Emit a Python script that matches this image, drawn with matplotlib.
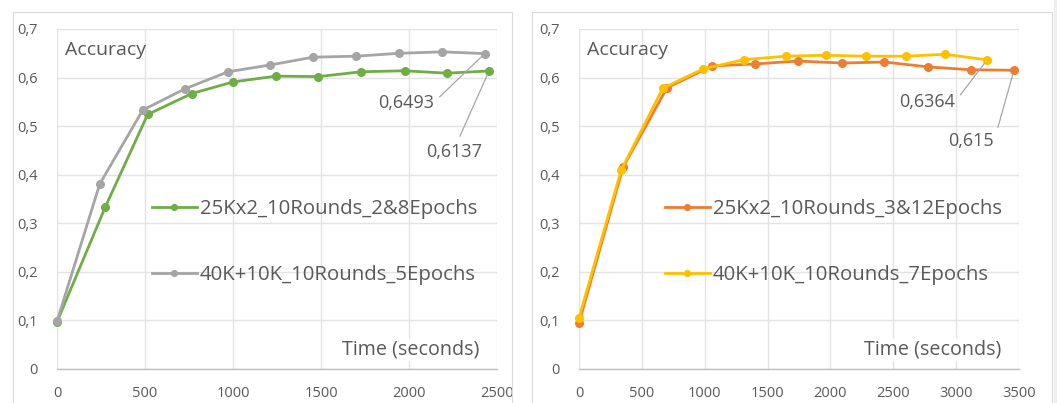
import matplotlib.pyplot as plt
from matplotlib.patches import Rectangle
from matplotlib.ticker import FuncFormatter

plt.rcParams['font.family'] = ['Open Sans', 'DejaVu Sans']

# left chart
green_x = [0, 275, 515, 765, 1000, 1245, 1485, 1730, 1975, 2215, 2455]
green_y = [0.097, 0.334, 0.524, 0.567, 0.591, 0.603, 0.602, 0.612, 0.614, 0.609, 0.6137]
gray_x = [0, 243, 487, 728, 973, 1212, 1456, 1700, 1945, 2190, 2430]
gray_y = [0.098, 0.381, 0.533, 0.577, 0.612, 0.626, 0.642, 0.644, 0.650, 0.653, 0.6493]
left_labels = ["25Kx2_10Rounds_2&8Epochs", "40K+10K_10Rounds_5Epochs"]

# right chart
orange_x = [0, 350, 700, 1060, 1400, 1740, 2092, 2430, 2775, 3118, 3460]
orange_y = [0.095, 0.415, 0.579, 0.624, 0.628, 0.634, 0.630, 0.632, 0.622, 0.616, 0.615]
yellow_x = [0, 335, 666, 990, 1313, 1644, 1965, 2283, 2601, 2912, 3246]
yellow_y = [0.105, 0.409, 0.578, 0.618, 0.637, 0.644, 0.646, 0.644, 0.644, 0.648, 0.6364]
right_labels = ["25Kx2_10Rounds_3&12Epochs", "40K+10K_10Rounds_7Epochs"]

TEXT = "#595959"
GRID = "#E3E3E3"

W, H = 1057, 403
fig = plt.figure(figsize=(W / 100, H / 100), dpi=100)

# chart frames
for x0, x1 in [(13, 512), (532, 1052)]:
    fig.patches.append(Rectangle((x0 / W, -0.05), (x1 - x0) / W, (H - 12) / H + 0.05,
                                 transform=fig.transFigure, fill=False,
                                 edgecolor="#D9D9D9", linewidth=0.8))
fig.patches.append(Rectangle((1054 / W, 0), 3 / W, 1, transform=fig.transFigure,
                             facecolor="#EEEEEE", edgecolor="none"))


def comma(v, pos):
    s = "%g" % round(v, 2)
    return s.replace(".", ",")


def setup(ax, xmax):
    ax.set_xlim(0, xmax)
    ax.set_ylim(0, 0.7)
    ax.set_xticks(range(0, xmax + 1, 500))
    ax.set_yticks([i / 10 for i in range(8)])
    ax.yaxis.set_major_formatter(FuncFormatter(comma))
    ax.grid(True, color=GRID, linewidth=1)
    ax.set_axisbelow(True)
    for s in ["top", "right", "left"]:
        ax.spines[s].set_visible(False)
    ax.spines["bottom"].set_color("#BFBFBF")
    ax.spines["bottom"].set_linewidth(1)
    ax.tick_params(axis="y", length=0, pad=14, labelsize=10.5, labelcolor=TEXT)
    ax.tick_params(axis="x", length=0, pad=12, labelsize=10.5, labelcolor=TEXT)
    ax.text(0.018, 0.938, "Accuracy", transform=ax.transAxes, fontsize=14,
            color=TEXT, va="center", ha="left")
    ax.text(0.961, 0.056, "Time (seconds)", transform=ax.transAxes, fontsize=14.2,
            color=TEXT, va="center", ha="right",
            bbox=dict(facecolor="white", edgecolor="none", pad=1))


def series(ax, x, y, color, label):
    ax.plot(x, y, color=color, linewidth=2, marker="o", markersize=5.5,
            label=label, clip_on=False, zorder=3)


def label_last(ax, x, y, text, dx, dy, relpos):
    ax.annotate(text, xy=(x[-1], y[-1]), xytext=(dx, dy), textcoords="offset pixels",
                ha="right", va="center", fontsize=13, color=TEXT,
                arrowprops=dict(arrowstyle="-", color="#A6A6A6", linewidth=0.9,
                                relpos=relpos, shrinkA=3, shrinkB=3))


def legend(ax, x):
    ax.legend(loc="center left", bbox_to_anchor=(x, 0.374), frameon=False,
              fontsize=14.7, labelcolor=TEXT, handlelength=2.2, handletextpad=0.15,
              labelspacing=2.25, borderpad=0, borderaxespad=0, markerscale=0.75)


ax1 = fig.add_axes([57 / W, 34 / H, 440 / W, 340 / H])
setup(ax1, 2500)
series(ax1, green_x, green_y, "#70AD47", left_labels[0])
series(ax1, gray_x, gray_y, "#A5A5A5", left_labels[1])
label_last(ax1, gray_x, gray_y, "0,6493", -51, -49, (1, 0.5))
label_last(ax1, green_x, green_y, "0,6137", -7, -81, (0.55, 1))
legend(ax1, 0.216)

ax2 = fig.add_axes([579 / W, 34 / H, 440 / W, 340 / H])
setup(ax2, 3500)
series(ax2, orange_x, orange_y, "#ED7D31", right_labels[0])
series(ax2, yellow_x, yellow_y, "#FFC000", right_labels[1])
label_last(ax2, yellow_x, yellow_y, "0,6364", -32, -42, (1, 0.5))
label_last(ax2, orange_x, orange_y, "0,615", -20, -71, (1, 0.5))
legend(ax2, 0.195)

fig.savefig("out.png", dpi=100)
